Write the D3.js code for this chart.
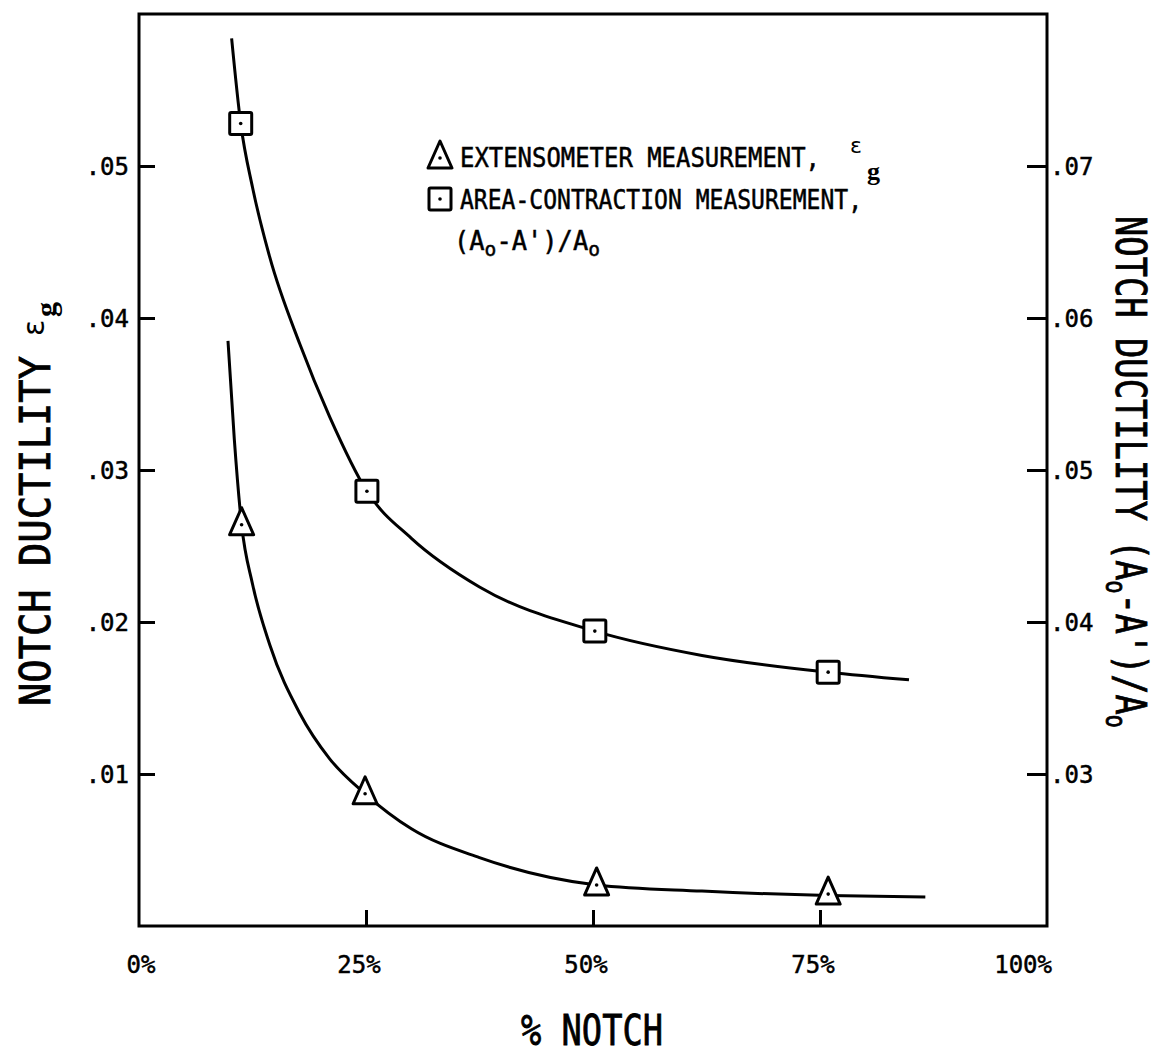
<!DOCTYPE html>
<html>
<head>
<meta charset="utf-8">
<script src="https://cdn.jsdelivr.net/npm/d3@7"></script>
<style>
  html, body { margin: 0; padding: 0; background: #fff; }
  svg { display: block; }
  .mono { font-family: "DejaVu Sans Mono", "Liberation Mono", monospace; fill: #000; stroke: #000; stroke-width: 0.5px; }
  .title { font-family: "DejaVu Sans Mono", "Liberation Mono", monospace; fill: #000; stroke: #000; stroke-width: 0.8px; }
  .tick-label { font-family: "DejaVu Sans Mono", monospace; font-size: 24px; fill: #000; stroke: #000; stroke-width: 0.5px; }
  .greek { font-family: "DejaVu Sans", sans-serif; fill: #000; }
  .sub-g { font-family: "Liberation Serif", serif; font-weight: bold; fill: #000; }
</style>
</head>
<body>
<svg id="chart" width="1163" height="1061"></svg>
<script>
// % notch along the bottom axis
const xTicks = [0, 25, 50, 75, 100];
const xTickLabels = ["0%", "25%", "50%", "75%", "100%"];

// left axis: notch ductility ε_g
const leftTicks = [0.01, 0.02, 0.03, 0.04, 0.05];
const leftTickLabels = [".01", ".02", ".03", ".04", ".05"];

// right axis: notch ductility (Ao - A')/Ao
const rightTicks = [0.03, 0.04, 0.05, 0.06, 0.07];
const rightTickLabels = [".03", ".04", ".05", ".06", ".07"];

// extensometer measurements (left axis)
const extNotch = [11.3, 24.9, 50.4, 75.9];
const extValue = [0.0264, 0.0087, 0.0027, 0.0021];

// area-contraction measurements (right axis)
const areaNotch = [11.2, 25.1, 50.2, 75.9];
const areaValue = [0.0728, 0.0486, 0.0394, 0.0367];

// faired curve through the extensometer data (left axis)
const extCurveNotch = [9.8, 10.5, 11.3, 12.5, 14.4, 17.7, 21, 24.9, 30, 37.5, 50.4, 62, 75.9, 86.6];
const extCurveValue = [0.0385, 0.0320, 0.0264, 0.0225, 0.0185, 0.0140, 0.0110, 0.0087, 0.0064, 0.0045, 0.0027, 0.0023, 0.0020, 0.0019];

// faired curve through the area-contraction data (right axis)
const areaCurveNotch = [10.2, 11.2, 12.5, 14.4, 17.7, 21, 25.1, 30, 37.5, 50.2, 62, 75.9, 84.8];
const areaCurveValue = [0.0784, 0.0728, 0.0686, 0.0640, 0.0583, 0.0535, 0.0486, 0.0455, 0.0423, 0.0394, 0.0378, 0.0367, 0.0362];

const svg = d3.select("#chart");

const plot = { left: 139, right: 1047, top: 14, bottom: 926 };

const x = d3.scaleLinear().domain([0, 100]).range([plot.left, plot.right]);
const yL = d3.scaleLinear().domain([0, 0.06]).range([plot.bottom, plot.top]);
const yR = d3.scaleLinear().domain([0.02, 0.08]).range([plot.bottom, plot.top]);

// frame
svg.append("rect")
  .attr("x", plot.left).attr("y", plot.top)
  .attr("width", plot.right - plot.left).attr("height", plot.bottom - plot.top)
  .attr("fill", "none").attr("stroke", "#000").attr("stroke-width", 3);

// inward ticks
function styleAxis(g) {
  g.select(".domain").remove();
  g.selectAll(".tick line").attr("stroke", "#000").attr("stroke-width", 3);
  g.selectAll(".tick text").remove();
}
svg.append("g")
  .attr("transform", `translate(0,${plot.bottom})`)
  .call(d3.axisBottom(x).tickValues(xTicks.slice(1, -1)).tickSizeInner(-16).tickSizeOuter(0))
  .call(styleAxis);
svg.append("g")
  .attr("transform", `translate(${plot.left},0)`)
  .call(d3.axisLeft(yL).tickValues(leftTicks).tickSizeInner(-16).tickSizeOuter(0))
  .call(styleAxis);
svg.append("g")
  .attr("transform", `translate(${plot.right},0)`)
  .call(d3.axisRight(yR).tickValues(rightTicks).tickSizeInner(-20).tickSizeOuter(0))
  .call(styleAxis);

// bottom tick labels
svg.selectAll(".xlab").data(xTicks).join("text")
  .attr("class", "tick-label")
  .attr("x", (d, i) => i === 0 ? x(d) + 2 : (i === xTicks.length - 1 ? x(d) + 5 : x(d) - 7))
  .attr("y", 973)
  .attr("text-anchor", (d, i) => i === xTicks.length - 1 ? "end" : "middle")
  .text((d, i) => xTickLabels[i]);

// left tick labels
svg.selectAll(".ylab").data(leftTicks).join("text")
  .attr("class", "tick-label")
  .attr("x", plot.left - 10)
  .attr("y", d => yL(d))
  .attr("dy", "0.36em")
  .attr("text-anchor", "end")
  .text((d, i) => leftTickLabels[i]);

// right tick labels
svg.selectAll(".rlab").data(rightTicks).join("text")
  .attr("class", "tick-label")
  .attr("x", plot.right + 3)
  .attr("y", d => yR(d))
  .attr("dy", "0.36em")
  .attr("text-anchor", "start")
  .text((d, i) => rightTickLabels[i]);

// curves
const lineL = d3.line().x(d => x(d[0])).y(d => yL(d[1])).curve(d3.curveMonotoneX);
const lineR = d3.line().x(d => x(d[0])).y(d => yR(d[1])).curve(d3.curveMonotoneX);

svg.append("path")
  .datum(extCurveNotch.map((n, i) => [n, extCurveValue[i]]))
  .attr("d", lineL)
  .attr("fill", "none").attr("stroke", "#000").attr("stroke-width", 3);

svg.append("path")
  .datum(areaCurveNotch.map((n, i) => [n, areaCurveValue[i]]))
  .attr("d", lineR)
  .attr("fill", "none").attr("stroke", "#000").attr("stroke-width", 3);

// markers
const triPath = "M0,-17 L12,10 L-12,10 Z";
function triangle(g, cx, cy) {
  g.append("path").attr("d", triPath).attr("transform", `translate(${cx},${cy})`)
    .attr("fill", "#fff").attr("stroke", "#000").attr("stroke-width", 3).attr("stroke-linejoin", "round");
  g.append("circle").attr("cx", cx).attr("cy", cy).attr("r", 1.8).attr("fill", "#000");
}
function square(g, cx, cy) {
  g.append("rect").attr("x", cx - 11).attr("y", cy - 11).attr("width", 22).attr("height", 22)
    .attr("fill", "#fff").attr("stroke", "#000").attr("stroke-width", 3).attr("rx", 1.5);
  g.append("circle").attr("cx", cx).attr("cy", cy).attr("r", 1.8).attr("fill", "#000");
}

const marks = svg.append("g");
extNotch.forEach((n, i) => triangle(marks, x(n), yL(extValue[i])));
areaNotch.forEach((n, i) => square(marks, x(n), yR(areaValue[i])));

// legend
const leg = svg.append("g");
triangle(leg, 440, 158);
leg.append("text").attr("class", "mono").attr("x", 460).attr("y", 167)
  .style("font-size", "26px").attr("textLength", 360).attr("lengthAdjust", "spacingAndGlyphs")
  .text("EXTENSOMETER MEASUREMENT,");
leg.append("text").attr("class", "greek").attr("x", 850).attr("y", 153)
  .style("font-size", "22px").text("ε");
leg.append("text").attr("class", "sub-g").attr("x", 867).attr("y", 180)
  .style("font-size", "26px").text("g");

square(leg, 440, 199);
leg.append("text").attr("class", "mono").attr("x", 460).attr("y", 209)
  .style("font-size", "26px").attr("textLength", 402).attr("lengthAdjust", "spacingAndGlyphs")
  .text("AREA-CONTRACTION MEASUREMENT,");

const l3 = leg.append("text").attr("class", "mono").attr("x", 454).attr("y", 250)
  .style("font-size", "26px").attr("textLength", 146).attr("lengthAdjust", "spacingAndGlyphs");
l3.append("tspan").text("(A");
l3.append("tspan").attr("dy", 6).style("font-size", "20px").text("o");
l3.append("tspan").attr("dy", -6).text("-A')/A");
l3.append("tspan").attr("dy", 6).style("font-size", "20px").text("o");

// left axis title
const tl = svg.append("g").attr("transform", "translate(50,706) rotate(-90)");
tl.append("text").attr("class", "title").attr("x", 0).attr("y", 0)
  .style("font-size", "43px").attr("textLength", 350).attr("lengthAdjust", "spacingAndGlyphs")
  .text("NOTCH DUCTILITY");
tl.append("text").attr("class", "greek").attr("x", 370).attr("y", -6)
  .style("font-size", "30px").text("ε");
tl.append("text").attr("class", "sub-g").attr("x", 389).attr("y", 6)
  .style("font-size", "30px").text("g");

// right axis title
const tr = svg.append("g").attr("transform", "translate(1116,216) rotate(90)");
tr.append("text").attr("class", "title").attr("x", 0).attr("y", 0)
  .style("font-size", "42px").attr("textLength", 305).attr("lengthAdjust", "spacingAndGlyphs")
  .text("NOTCH DUCTILITY");
const trt = tr.append("text").attr("class", "title").attr("x", 324).attr("y", 0)
  .style("font-size", "42px").attr("textLength", 188).attr("lengthAdjust", "spacingAndGlyphs");
trt.append("tspan").text("(A");
trt.append("tspan").attr("dy", 10).style("font-size", "28px").text("o");
trt.append("tspan").attr("dy", -10).text("-A')/A");
trt.append("tspan").attr("dy", 10).style("font-size", "28px").text("o");

// bottom axis title
svg.append("text").attr("class", "title").attr("x", 521).attr("y", 1045)
  .style("font-size", "42px").attr("textLength", 142).attr("lengthAdjust", "spacingAndGlyphs")
  .text("% NOTCH");
</script>
</body>
</html>
